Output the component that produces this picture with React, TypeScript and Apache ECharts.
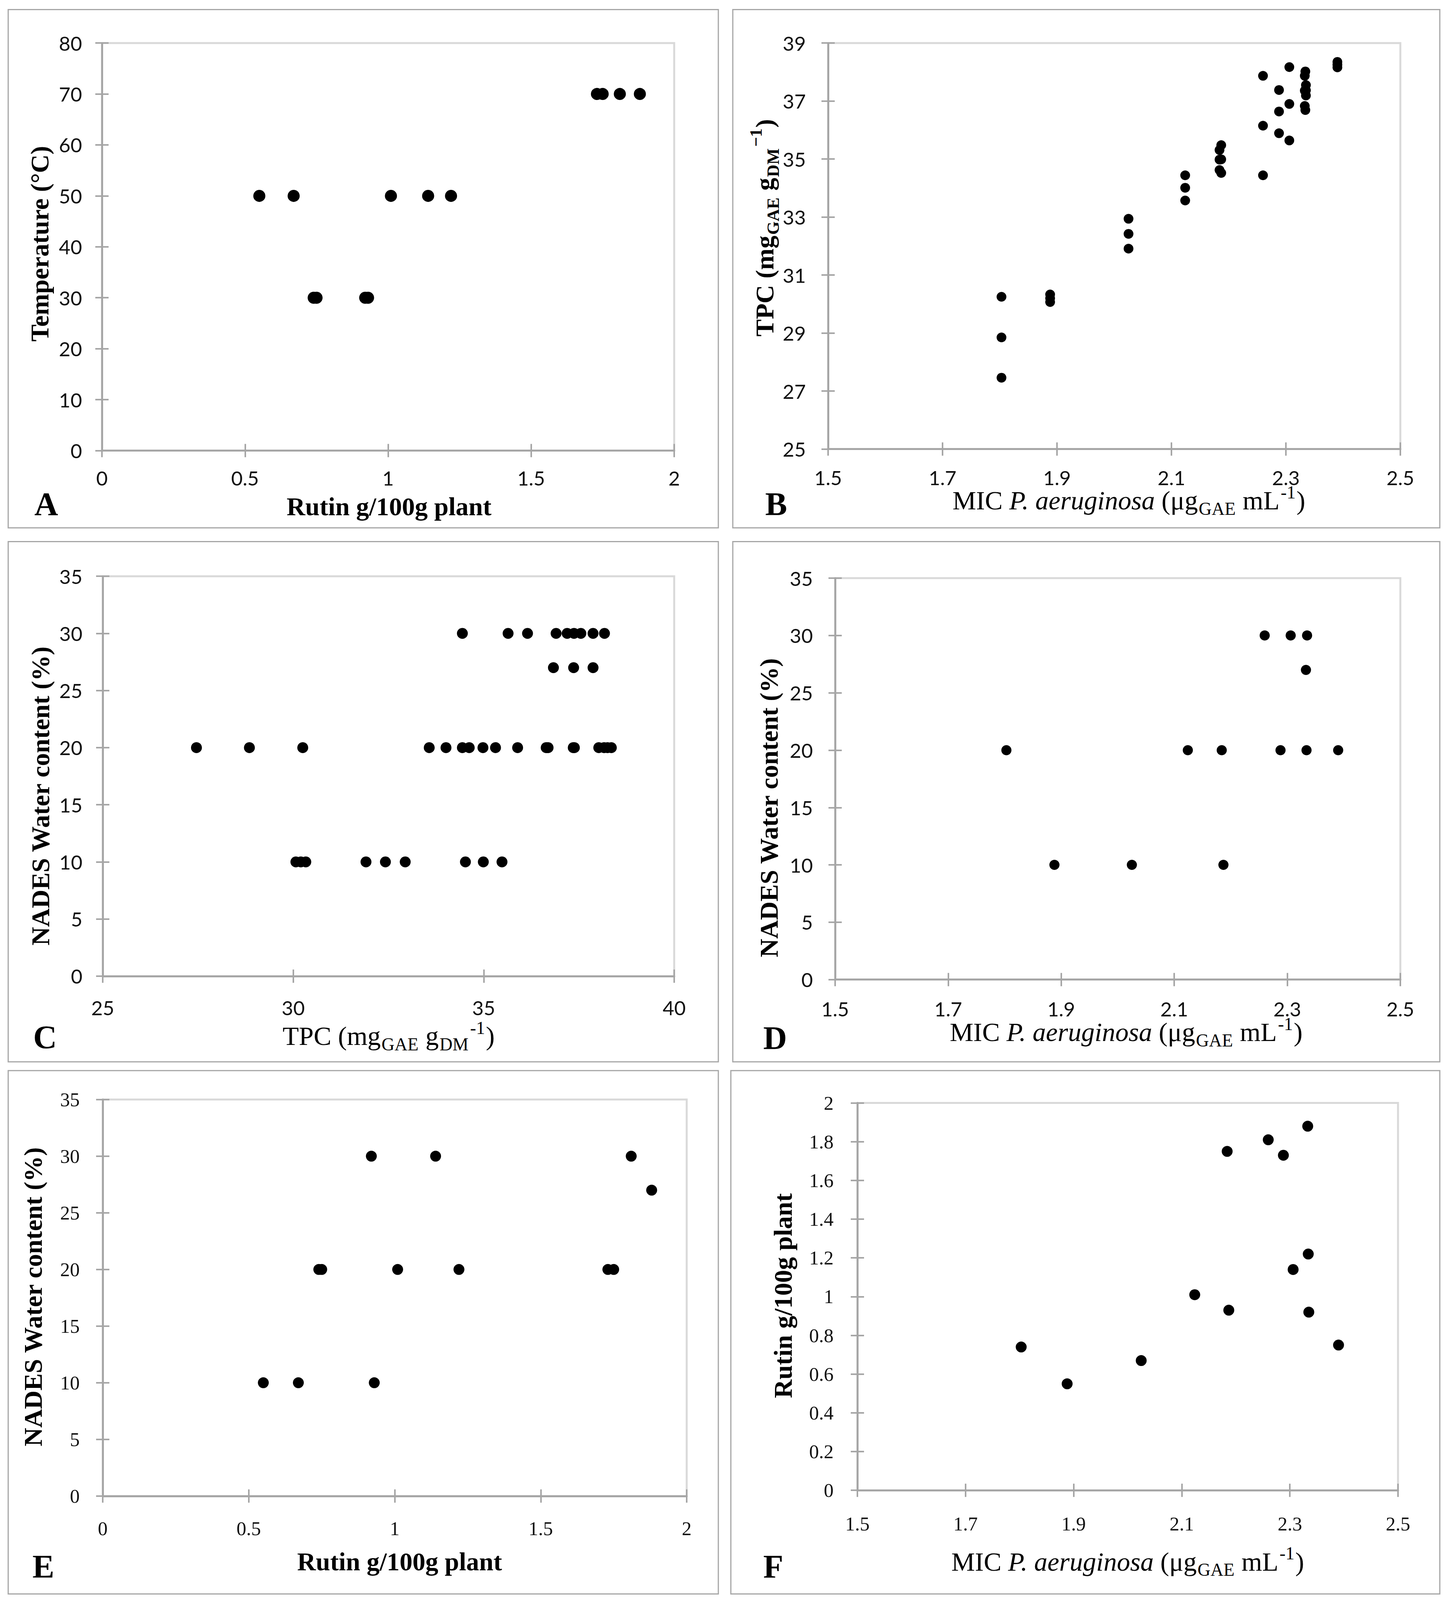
import React, { useEffect, useRef } from "react";
import * as echarts from "echarts";

const W = 3707;
const H = 4201;

// ---- Data: 13 extracts (per-extract means) ----
const rutin = [0.74, 0.55, 0.67, 1.01, 0.93, 1.75, 1.81, 1.73, 1.14, 1.88, 1.22, 0.92, 0.75];
const temperature = [30, 50, 50, 50, 30, 70, 70, 70, 50, 70, 50, 30, 30];
const waterContent = [20, 10, 10, 20, 10, 20, 30, 20, 30, 27, 20, 30, 20];
const micMean = [1.803, 1.888, 2.025, 2.124, 2.187, 2.184, 2.26, 2.288, 2.306, 2.333, 2.334, 2.335, 2.39];
// TPC replicates (3 per extract)
const tpcReplicates = [
  [27.46, 28.85, 30.25],
  [30.07, 30.2, 30.33],
  [31.91, 32.42, 32.94],
  [33.57, 34.01, 34.44],
  [34.52, 34.99, 35.48],
  [34.62, 34.98, 35.31],
  [34.44, 36.15, 37.87],
  [35.89, 36.64, 37.38],
  [35.64, 36.9, 38.17],
  [36.83, 37.36, 37.87],
  [36.69, 37.35, 38.02],
  [37.19, 37.37, 37.55],
  [38.16, 38.25, 38.35],
];

// ---- Tick values ----
const rutinTicks = [0, 0.5, 1, 1.5, 2];
const tempTicks = [0, 10, 20, 30, 40, 50, 60, 70, 80];
const micTicks = [1.5, 1.7, 1.9, 2.1, 2.3, 2.5];
const tpcTicksB = [25, 27, 29, 31, 33, 35, 37, 39];
const tpcTicksC = [25, 30, 35, 40];
const waterTicks = [0, 5, 10, 15, 20, 25, 30, 35];
const rutinTicksF = [0, 0.2, 0.4, 0.6, 0.8, 1, 1.2, 1.4, 1.6, 1.8, 2];

// ---- Titles ----
const T_RUTIN = "Rutin g/100g plant";
const T_TEMP = "Temperature (°C)";
const T_MIC = "MIC {it|P. aeruginosa} (μg{sub|GAE} mL{sup|-1})";
const T_TPC_Y = "TPC (mg{sub|GAE} g{sub|DM}{sup|−1})";
const T_TPC_X = "TPC (mg{sub|GAE} g{sub|DM}{sup|-1})";
const T_WATER = "NADES Water content (%)";

const SERIF = "'Liberation Serif', 'DejaVu Serif', serif";
const SANS = "Lato, 'Noto Sans', sans-serif";
const AXIS_COLOR = "#a6a6a6";
const FRAME_COLOR = "#a6a6a6";
const BORDER_COLOR = "#d9d9d9";

function titleStyle(text: string, bold: boolean) {
  const size = bold ? 66 : 68;
  const sub = bold ? 44 : 46;
  const weight = bold ? "bold" : "normal";
  const base = { fontFamily: SERIF, fontWeight: weight, fill: "#000" };
  return {
    text,
    ...base,
    fontSize: size,
    lineHeight: 88,
    align: "center",
    verticalAlign: "middle",
    rich: {
      it: { ...base, fontStyle: "italic", fontSize: size, lineHeight: 88 },
      sub: { ...base, fontStyle: "normal", fontSize: sub, lineHeight: sub, verticalAlign: "bottom", padding: [0, 1, 0, 2] },
      sup: { ...base, fontStyle: "normal", fontSize: sub, lineHeight: sub, verticalAlign: "top", padding: [0, 2, 0, 3] },
    },
  };
}

const panels = [
  {
    letter: "A", frame: [21, 25, 1818, 1361], letterPos: [88, 1324],
    grid: { left: 261, top: 113, width: 1465, height: 1070 },
    xTicks: rutinTicks, yTicks: tempTicks,
    points: rutin.map((r, i) => [r, temperature[i]]),
    size: 31, font: SANS, fontSize: 51, xMargin: 46, yMargin: 51,
    xTitle: { text: T_RUTIN, x: 996, y: 1330, bold: true }, yTitle: { text: T_TEMP, x: 101, y: 640 },
  },
  {
    letter: "B", frame: [1876, 25, 1810, 1361], letterPos: [1959, 1324],
    grid: { left: 2120, top: 113, width: 1465, height: 1066 },
    xTicks: micTicks, yTicks: tpcTicksB,
    points: micMean.flatMap((m, i) => tpcReplicates[i].map((t) => [m, t])),
    size: 25, font: SANS, fontSize: 51, xMargin: 49, yMargin: 57,
    xTitle: { text: T_MIC, x: 2890, y: 1314, bold: false }, yTitle: { text: T_TPC_Y, x: 1957, y: 598 },
  },
  {
    letter: "C", frame: [21, 1422, 1818, 1366], letterPos: [85, 2724],
    grid: { left: 263, top: 1513, width: 1463, height: 1050 },
    xTicks: tpcTicksC, yTicks: waterTicks,
    points: tpcReplicates.flatMap((reps, i) => reps.map((t) => [t, waterContent[i]])),
    size: 28, font: SANS, fontSize: 51, xMargin: 56, yMargin: 52,
    xTitle: { text: T_TPC_X, x: 995, y: 2720, bold: false }, yTitle: { text: T_WATER, x: 103, y: 2090 },
  },
  {
    letter: "D", frame: [1876, 1422, 1810, 1366], letterPos: [1954, 2726],
    grid: { left: 2138, top: 1518, width: 1447, height: 1054 },
    xTicks: micTicks, yTicks: waterTicks,
    points: micMean.map((m, i) => [m, waterContent[i]]),
    size: 26, font: SANS, fontSize: 51, xMargin: 51, yMargin: 57,
    xTitle: { text: T_MIC, x: 2883, y: 2710, bold: false }, yTitle: { text: T_WATER, x: 1968, y: 2121 },
  },
  {
    letter: "E", frame: [21, 2811, 1818, 1374], letterPos: [83, 4113],
    grid: { left: 263, top: 2887, width: 1495, height: 1041 },
    xTicks: rutinTicks, yTicks: waterTicks,
    points: rutin.map((r, i) => [r, waterContent[i]]),
    size: 28, font: SERIF, fontSize: 50, xMargin: 60, yMargin: 59,
    xTitle: { text: T_RUTIN, x: 1023, y: 4100, bold: true }, yTitle: { text: T_WATER, x: 84, y: 3405 },
  },
  {
    letter: "F", frame: [1871, 2811, 1815, 1374], letterPos: [1954, 4113],
    grid: { left: 2195, top: 2896, width: 1384, height: 1017 },
    xTicks: micTicks, yTicks: rutinTicksF,
    points: micMean.map((m, i) => [m, rutin[i]]),
    size: 28, font: SERIF, fontSize: 50, xMargin: 62, yMargin: 61,
    xTitle: { text: T_MIC, x: 2887, y: 4100, bold: false }, yTitle: { text: T_RUTIN, x: 2004, y: 3402 },
  },
];

const fmt = (v: number) => String(parseFloat(v.toFixed(2)));

function axisPair(dim: "x" | "y", ticks: number[], gridIndex: number, font: string, fontSize: number, margin: number) {
  const min = ticks[0];
  const max = ticks[ticks.length - 1];
  const interval = parseFloat((ticks[1] - ticks[0]).toFixed(6));
  const common = {
    type: "value",
    gridIndex,
    min,
    max,
    interval,
    position: dim === "x" ? "bottom" : "left",
    splitLine: { show: false },
  };
  const main = {
    ...common,
    axisLine: { show: true, onZero: false, lineStyle: { color: AXIS_COLOR, width: 5 } },
    axisTick: { show: true, inside: false, length: 17, lineStyle: { color: AXIS_COLOR, width: 4 } },
    axisLabel: {
      show: true,
      margin,
      fontFamily: font,
      fontSize,
      color: "#111",
      formatter: (v: number) => fmt(v),
    },
  };
  const inner = {
    ...common,
    axisLine: { show: false, onZero: false },
    axisTick: { show: true, inside: true, length: 17, lineStyle: { color: AXIS_COLOR, width: 4 } },
    axisLabel: { show: false },
  };
  return [main, inner];
}

function viewportScale() {
  if (typeof window === "undefined") return 1;
  const vh = window.innerHeight || H;
  return Math.min(1, vh / H);
}

export default function App() {
  const ref = useRef<HTMLDivElement>(null);
  const sy = viewportScale();
  const CH = Math.floor(H * sy);

  useEffect(() => {
    document.body.style.margin = "0";
    document.body.style.overflow = "hidden";
    if (!ref.current) return;
    const chart = echarts.init(ref.current, undefined, { renderer: "svg", width: W, height: CH });
    const Y = (v: number) => v * sy;

    const grids: any[] = [];
    const xAxes: any[] = [];
    const yAxes: any[] = [];
    const series: any[] = [];
    const graphics: any[] = [];

    panels.forEach((p, i) => {
      grids.push({
        left: p.grid.left,
        width: p.grid.width,
        top: Y(p.grid.top),
        height: Y(p.grid.height),
        show: true,
        borderColor: BORDER_COLOR,
        borderWidth: 5,
        backgroundColor: "transparent",
        containLabel: false,
      });
      const xa = axisPair("x", p.xTicks, i, p.font, p.fontSize, Y(p.xMargin));
      const ya = axisPair("y", p.yTicks, i, p.font, p.fontSize, p.yMargin);
      const xIndex = xAxes.length;
      const yIndex = yAxes.length;
      xAxes.push(...xa);
      yAxes.push(...ya);
      series.push({
        type: "scatter",
        xAxisIndex: xIndex,
        yAxisIndex: yIndex,
        data: p.points,
        symbol: "circle",
        symbolSize: p.size,
        itemStyle: { color: "#000", opacity: 1 },
        silent: true,
      });
      const [fx, fy, fw, fh] = p.frame;
      graphics.push({
        type: "rect",
        shape: { x: fx, y: Y(fy), width: fw, height: Y(fh) },
        style: { fill: "none", stroke: FRAME_COLOR, lineWidth: 3 },
        silent: true,
      });
      graphics.push({
        type: "text",
        x: p.letterPos[0],
        y: Y(p.letterPos[1]),
        style: {
          text: p.letter,
          fontFamily: SERIF,
          fontWeight: "bold",
          fontSize: 84,
          fill: "#000",
          align: "left",
          verticalAlign: "middle",
        },
        silent: true,
      });
      graphics.push({
        type: "text",
        x: p.xTitle.x,
        y: Y(p.xTitle.y),
        style: titleStyle(p.xTitle.text, p.xTitle.bold),
        silent: true,
      });
      graphics.push({
        type: "text",
        x: p.yTitle.x,
        y: Y(p.yTitle.y),
        rotation: Math.PI / 2,
        style: titleStyle(p.yTitle.text, true),
        silent: true,
      });
    });

    chart.setOption({
      animation: false,
      backgroundColor: "#fff",
      grid: grids,
      xAxis: xAxes,
      yAxis: yAxes,
      series,
      graphic: { elements: graphics },
    });

    return () => chart.dispose();
  }, []);

  return <div ref={ref} style={{ width: W, height: CH }} />;
}
